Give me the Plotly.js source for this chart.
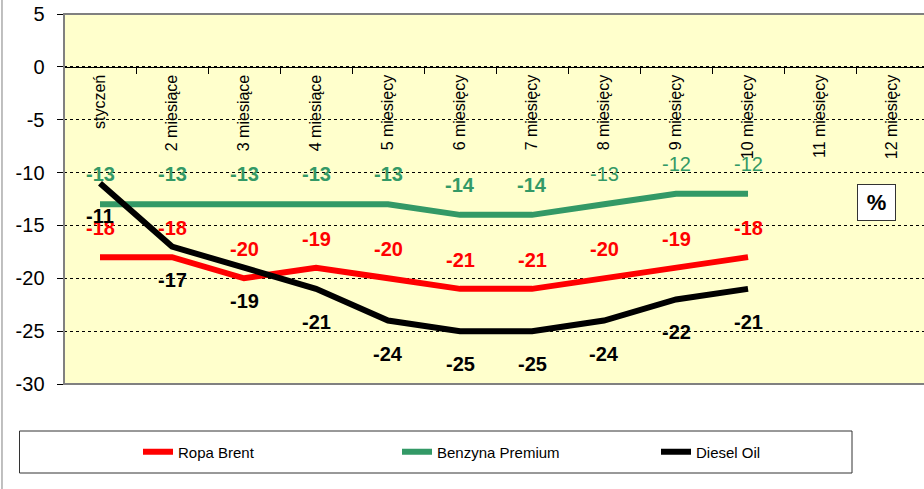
<!DOCTYPE html>
<html>
<head>
<meta charset="utf-8">
<script src="https://cdn.plot.ly/plotly-3.0.1.min.js"></script>
<style>html,body{margin:0;padding:0;background:#fff;}#chart{width:924px;height:489px;}</style>
</head>
<body>
<div id="chart"></div>
<script>
const categories = ["styczeń","2 miesiące","3 miesiące","4 miesiące","5 miesięcy","6 miesięcy","7 miesięcy","8 miesięcy","9 miesięcy","10 miesięcy","11 miesięcy","12 miesięcy"];
const ropaBrent = [-18,-18,-20,-19,-20,-21,-21,-20,-19,-18];
const benzynaPremium = [-13,-13,-13,-13,-13,-14,-14,-13,-12,-12];
const dieselOil = [-11,-17,-19,-21,-24,-25,-25,-24,-22,-21];
const benzynaBold = [true,true,true,true,true,true,true,false,false,false];
const yTicks = [5,0,-5,-10,-15,-20,-25,-30];

const FONT = "Liberation Sans, Arial, sans-serif";
const RED = "#FF0000", GREEN = "#339966", BLACK = "#000000";

function mk(name, vals, color){
  return {type:"scatter", mode:"lines", name:name, x:categories.slice(0, vals.length), y:vals,
    line:{color:color, width:6}, hoverinfo:"skip"};
}
const traces = [mk("Ropa Brent", ropaBrent, RED), mk("Benzyna Premium", benzynaPremium, GREEN), mk("Diesel Oil", dieselOil, BLACK)];

const annotations = [];
function labels(vals, color, shift, boldArr){
  vals.forEach((v,i)=>{
    const bold = boldArr ? boldArr[i] : true;
    annotations.push({x:categories[i], y:v, xref:"x", yref:"y", text: bold ? "<b>"+v+"</b>" : String(v),
      showarrow:false, yshift:shift, font:{family:FONT, size:20, color:color}});
  });
}
labels(benzynaPremium, GREEN, 30, benzynaBold);
labels(ropaBrent, RED, 29, null);
labels(dieselOil, BLACK, -33, null);

annotations.push({xref:"paper", yref:"paper", x:(876.5-64)/860, y:(384-202.5)/370, xanchor:"center", yanchor:"middle",
  text:"<b>%</b>", showarrow:false,
  font:{family:FONT, size:22, color:"#000"}, bgcolor:"#FFFFFF", bordercolor:"#333333", borderwidth:1,
  width:35, height:33, borderpad:1});

const shapes = [
  {type:"rect", xref:"paper", yref:"paper", x0:0, x1:1.01, y0:0, y1:1, line:{color:"#808080", width:2}, layer:"above"},
  {type:"rect", xref:"paper", yref:"paper", x0:(19.5-64)/860, x1:(852-64)/860, y0:(384-473)/370, y1:(384-431)/370, line:{color:"#333333", width:1}},
  {type:"line", xref:"paper", yref:"paper", x0:-0.0721, x1:-0.0721, y0:-0.29, y1:1.04, line:{color:"#808080", width:1}}
];

const layout = {
  width:924, height:489,
  margin:{l:64, r:0, t:14, b:105},
  paper_bgcolor:"#FFFFFF", plot_bgcolor:"#FFFFCC",
  font:{family:FONT, color:"#000"},
  showlegend:true,
  legend:{orientation:"h", x:(138-64)/860, y:(384-452)/370, xanchor:"left", yanchor:"middle", bgcolor:"rgba(0,0,0,0)",
    font:{family:FONT, size:15, color:"#000"}, entrywidth:214, itemwidth:30, traceorder:"normal"},
  xaxis:{type:"category", categoryorder:"array", categoryarray:categories, range:[-0.5, 11.444],
    anchor:"free", position:30/35, showline:true, linecolor:"#000", linewidth:1.5,
    ticks:"outside", tickson:"boundaries", ticklen:6, tickcolor:"#000", tickwidth:1,
    tickangle:-90, tickfont:{family:FONT, size:16, color:"#000"}, showgrid:false, zeroline:false, fixedrange:true},
  yaxis:{range:[-30,5], tickvals:yTicks, ticktext:yTicks.map(String), showline:true, linecolor:"#000", linewidth:1.5,
    ticks:"outside", ticklen:6, tickcolor:"#000", tickfont:{family:FONT, size:20, color:"#000"}, ticklabelstandoff:8,
    showgrid:true, gridcolor:"#000", gridwidth:1, griddash:"dot", zeroline:false, fixedrange:true},
  annotations:annotations,
  shapes:shapes
};
Plotly.newPlot("chart", traces, layout, {displayModeBar:false, staticPlot:true});
</script>
</body>
</html>
